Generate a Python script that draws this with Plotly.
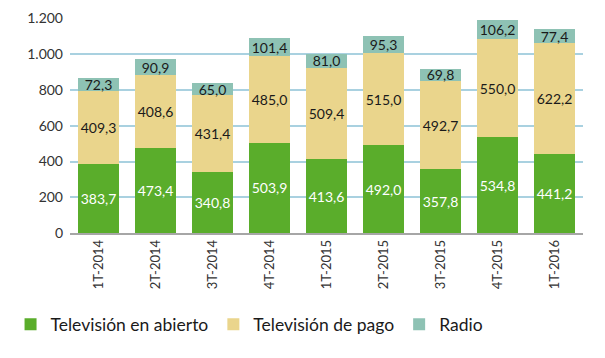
import plotly.graph_objects as go

categories = ["1T-2014", "2T-2014", "3T-2014", "4T-2014", "1T-2015", "2T-2015", "3T-2015", "4T-2015", "1T-2016"]
tv_abierto = [383.7, 473.4, 340.8, 503.9, 413.6, 492.0, 357.8, 534.8, 441.2]
tv_pago = [409.3, 408.6, 431.4, 485.0, 509.4, 515.0, 492.7, 550.0, 622.2]
radio = [72.3, 90.9, 65.0, 101.4, 81.0, 95.3, 69.8, 106.2, 77.4]
y_ticks = [0, 200, 400, 600, 800, 1000, 1200]

def fmt(v):
    return f"{v:.1f}".replace(".", ",")

FONT = "Lato, Noto Sans, sans-serif"

fig = go.Figure()
series = [
    ("Televisión en abierto", tv_abierto, "#5aad2b", "white"),
    ("Televisión de pago", tv_pago, "#ead58c", "#1a1a1a"),
    ("Radio", radio, "#8ec2b4", "#1a1a1a"),
]
for name, vals, color, tcolor in series:
    fig.add_trace(go.Bar(
        x=categories, y=vals, name=name,
        marker=dict(color=color, line=dict(width=0)),
        text=[fmt(v) for v in vals],
        textposition="inside", insidetextanchor="middle",
        textangle=0,
        constraintext="none",
        textfont=dict(color=tcolor, size=14, family=FONT),
        cliponaxis=False,
    ))

fig.update_layout(
    barmode="stack",
    bargap=0.27,
    width=605, height=358,
    margin=dict(l=62, r=30, t=10, b=133, autoexpand=False),
    paper_bgcolor="white", plot_bgcolor="white",
    font=dict(family=FONT, color="#333333"),
    uniformtext=dict(mode=False),
    showlegend=True,
    legend=dict(
        orientation="h", x=0.35, xanchor="center", y=-0.425, yanchor="middle",
        font=dict(size=17.5, color="#1a1a1a", family=FONT),
        itemwidth=30, traceorder="normal",
    ),
    xaxis=dict(
        tickangle=-90, tickfont=dict(size=13, color="#333333"),
        showline=True, linecolor="#a6a6a6", linewidth=1.5,
        showgrid=False, ticks="", automargin=False,
    ),
    yaxis=dict(
        range=[0, 1203], tickvals=y_ticks, tickformat=",d",
        tickfont=dict(size=14, color="#333333"),
        showgrid=True, gridcolor="#a9d1e0", gridwidth=1.5,
        zeroline=False, showline=False, ticks="", automargin=False,
        ticklabelstandoff=6, ticklabeloverflow="allow",
    ),
    separators=",.",
)

fig.write_html("out.html")
